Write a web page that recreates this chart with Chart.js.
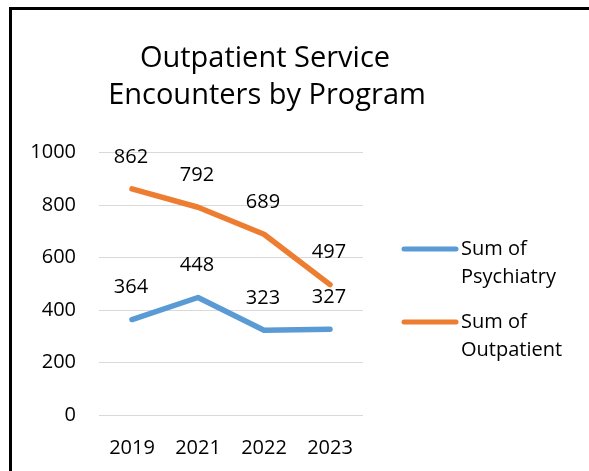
<!DOCTYPE html>
<html>
<head>
<meta charset="utf-8">
<script src="https://cdn.jsdelivr.net/npm/chart.js@4.4.1/dist/chart.umd.min.js"></script>
<style>
  html, body { margin: 0; padding: 0; background: #fff; }
  #wrap { position: relative; width: 589px; height: 471px; overflow: hidden; }
  #frame { position: absolute; left: 9px; top: 7px; width: 700px; height: 600px;
           border-left: 3px solid #000; border-top: 3px solid #000; box-sizing: border-box; }
  canvas { position: absolute; left: 0; top: 0; }
</style>
</head>
<body>
<div id="wrap">
  <div id="frame"></div>
  <canvas id="c" width="589" height="471"></canvas>
</div>
<script>
const titleLines = ['Outpatient Service', 'Encounters by Program'];
const years = ['2019', '2021', '2022', '2023'];
const psychiatry = [364, 448, 323, 327];
const outpatient = [862, 792, 689, 497];
const seriesNames = [['Sum of', 'Psychiatry'], ['Sum of', 'Outpatient']];
const seriesColors = ['#5B9BD5', '#ED7D31'];
const yTicks = [0, 200, 400, 600, 800, 1000];

const FONT = '"Open Sans", "Noto Sans", "Liberation Sans", sans-serif';

const decorPlugin = {
  id: 'decor',
  afterDatasetsDraw(chart) {
    const ctx = chart.ctx;
    ctx.save();
    // data labels
    ctx.fillStyle = '#000';
    ctx.font = '20px ' + FONT;
    ctx.textAlign = 'center';
    ctx.textBaseline = 'middle';
    chart.data.datasets.forEach((ds, i) => {
      const meta = chart.getDatasetMeta(i);
      meta.data.forEach((pt, j) => {
        ctx.fillText(String(ds.data[j]), pt.x - 1, pt.y - 32);
      });
    });
    // title
    ctx.font = '29px ' + FONT;
    ctx.textBaseline = 'alphabetic';
    ctx.fillText(titleLines[0], 265, 67);
    ctx.fillText(titleLines[1], 267, 104);
    // legend
    ctx.font = '20px ' + FONT;
    ctx.textAlign = 'left';
    ctx.textBaseline = 'middle';
    const legendTops = [249, 322];
    chart.data.datasets.forEach((ds, i) => {
      const y = legendTops[i];
      ctx.strokeStyle = ds.borderColor;
      ctx.lineWidth = 5;
      ctx.lineCap = 'round';
      ctx.beginPath();
      ctx.moveTo(404, y);
      ctx.lineTo(456, y);
      ctx.stroke();
      ctx.fillStyle = '#000';
      seriesNames[i].forEach((t, k) => ctx.fillText(t, 461, y + k * 28));
    });
    ctx.restore();
  }
};

new Chart(document.getElementById('c'), {
  type: 'line',
  data: {
    labels: years,
    datasets: [
      { label: seriesNames[0].join(' '), data: psychiatry, borderColor: seriesColors[0],
        backgroundColor: seriesColors[0], borderWidth: 5.5, pointRadius: 0, tension: 0,
        borderCapStyle: 'round', borderJoinStyle: 'round' },
      { label: seriesNames[1].join(' '), data: outpatient, borderColor: seriesColors[1],
        backgroundColor: seriesColors[1], borderWidth: 5.5, pointRadius: 0, tension: 0,
        borderCapStyle: 'round', borderJoinStyle: 'round' }
    ]
  },
  options: {
    responsive: false,
    animation: false,
    layout: { padding: { left: 0, right: 226, top: 152.7, bottom: 0 } },
    plugins: { legend: { display: false }, title: { display: false }, tooltip: { enabled: false } },
    scales: {
      x: {
        offset: true,
        grid: { display: false, drawTicks: false },
        border: { display: false },
        ticks: { color: '#000', font: { family: FONT, size: 20 }, padding: 21, maxRotation: 0 },
        afterFit(s) { s.height = 56; }
      },
      y: {
        min: 0, max: 1000,
        afterBuildTicks(s) { s.ticks = yTicks.map(v => ({ value: v })); },
        grid: { color: '#D9D9D9', lineWidth: 1, drawTicks: false },
        border: { display: false },
        ticks: { color: '#000', font: { family: FONT, size: 20 }, padding: 23,
                 callback: (v) => String(v) },
        afterFit(s) { s.width = 99; }
      }
    }
  },
  plugins: [decorPlugin]
});
</script>
</body>
</html>
